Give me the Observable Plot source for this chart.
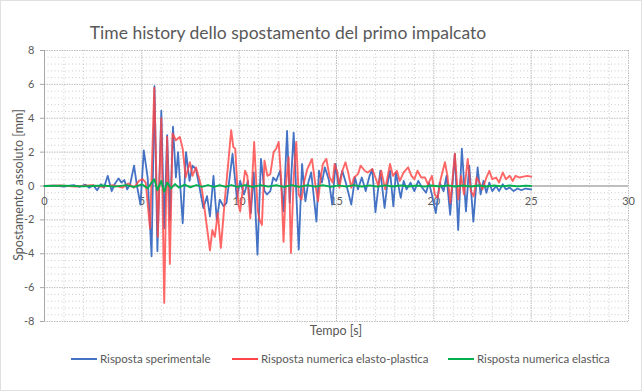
<!DOCTYPE html>
<html>
<head>
<meta charset="utf-8">
<script src="https://cdn.jsdelivr.net/npm/d3@7"></script>
<script src="https://cdn.jsdelivr.net/npm/@observablehq/plot@0.6"></script>
<style>
  html, body { margin: 0; padding: 0; background: #fff; }
  #chart svg { display: block; }
</style>
</head>
<body>
<div id="chart"></div>
<script>
const title = "Time history dello spostamento del primo impalcato";
const xTitle = "Tempo [s]";
const yTitle = "Spostamento assoluto [mm]";
const seriesNames = ["Risposta sperimentale", "Risposta numerica elasto-plastica", "Risposta numerica elastica"];
const seriesColors = ["#4472C4", "#FF4545", "#00B050"];
const xTicks = [0, 5, 10, 15, 20, 25, 30];
const yTicks = [-8, -6, -4, -2, 0, 2, 4, 6, 8];

// [time s, displacement mm]
const sperimentale = [
  [0,0],[0.5,0.02],[1.0,-0.03],[1.5,0.05],[1.8,-0.05],[2.1,0.08],[2.3,-0.1],[2.5,0.05],[2.7,-0.25],[2.9,0.1],
  [3.05,-0.1],[3.25,0.6],[3.45,-0.3],[3.6,0.1],[3.8,0.45],[3.95,0.2],[4.1,0.35],[4.25,-0.2],[4.4,0.1],[4.6,1.2],
  [4.75,0.0],[4.93,-1.1],[5.1,2.1],[5.3,0.5],[5.5,-4.15],[5.65,5.9],[5.8,-3.85],[6.0,4.45],[6.15,-2.5],[6.3,3.0],
  [6.45,-2.0],[6.6,3.5],[6.75,0.5],[6.86,2.0],[7.1,-2.2],[7.27,2.0],[7.45,0.3],[7.6,1.2],[7.78,1.0],[7.95,0.0],
  [8.16,-1.3],[8.35,-0.6],[8.5,-1.8],[8.68,0.6],[8.85,-2.0],[9.0,-0.8],[9.2,-1.2],[9.35,-1.0],[9.66,1.9],[9.88,-0.7],
  [10.05,0.3],[10.25,-0.5],[10.45,0.3],[10.6,-1.6],[10.75,0.8],[10.94,-4.05],[11.12,1.6],[11.3,-0.3],[11.43,-0.5],[11.6,-0.3],
  [11.75,0.5],[11.9,0.3],[12.1,0.9],[12.28,-1.5],[12.46,3.25],[12.6,-1.0],[12.8,3.15],[13.06,-3.75],[13.23,1.3],[13.4,-0.9],
  [13.55,0.2],[13.7,0.8],[13.97,-2.1],[14.1,0.9],[14.25,0.2],[14.4,1.1],[14.6,0.4],[14.78,-1.1],[14.95,1.3],[15.1,0.0],
  [15.3,0.9],[15.5,0.1],[15.76,-1.1],[15.95,0.5],[16.1,-0.2],[16.3,0.5],[16.5,-0.3],[16.7,0.6],[16.84,1.0],[17.0,-1.55],
  [17.25,0.9],[17.47,-1.3],[17.6,0.0],[17.75,0.9],[17.92,-1.2],[18.05,0.8],[18.3,-0.7],[18.45,0.3],[18.6,-0.2],[18.8,0.2],
  [19.0,-0.3],[19.2,0.3],[19.4,-0.1],[19.6,-0.4],[19.75,0.2],[19.9,-0.5],[20.1,-1.6],[20.3,0.2],[20.5,-0.3],[20.65,0.6],
  [20.84,-1.7],[21.08,1.9],[21.25,-2.6],[21.44,2.2],[21.65,-1.5],[21.82,1.2],[22.03,-2.1],[22.25,1.1],[22.4,-0.5],[22.55,0.3],
  [22.7,-0.4],[22.85,0.2],[23.0,-0.3],[23.2,0.0],[23.35,-0.3],[23.54,0.1],[23.7,-0.2],[23.9,-0.1],[24.1,-0.3],[24.3,-0.15],
  [24.5,-0.25],[24.7,-0.15],[25.0,-0.2]
];

const elastoPlastica = [
  [0,0],[0.8,0.03],[1.6,-0.03],[2.4,0.05],[3.0,-0.05],[3.5,0.05],[4.0,-0.1],[4.3,0.15],[4.6,-0.1],[4.85,0.3],
  [5.05,0.4],[5.2,0.2],[5.42,-2.5],[5.64,5.8],[5.82,-3.0],[6.0,4.0],[6.15,-6.9],[6.3,2.9],[6.44,-4.6],[6.58,3.1],
  [6.75,2.7],[6.95,2.9],[7.1,2.2],[7.25,0.5],[7.47,1.4],[7.6,0.6],[7.78,1.1],[7.98,0.3],[8.1,-0.3],[8.25,-1.6],
  [8.5,-3.8],[8.62,-2.6],[8.75,-3.0],[8.9,-1.6],[9.06,-3.65],[9.25,-1.0],[9.45,1.5],[9.59,3.3],[9.7,2.3],[9.8,2.2],
  [9.95,-1.0],[10.05,-1.5],[10.3,0.9],[10.42,0.6],[10.57,-1.9],[10.77,2.6],[10.95,-1.4],[11.05,-2.0],[11.17,-2.3],[11.3,1.5],
  [11.45,0.6],[11.6,0.7],[11.77,2.0],[11.9,2.2],[12.03,2.6],[12.15,0.5],[12.28,-3.3],[12.4,0.0],[12.54,1.7],[12.66,-3.95],
  [12.8,0.5],[12.93,2.6],[13.06,-0.5],[13.2,-0.8],[13.35,0.3],[13.5,1.0],[13.74,1.6],[13.9,0.2],[14.05,-0.9],[14.2,0.6],
  [14.3,1.3],[14.48,1.6],[14.65,0.5],[14.8,0.2],[14.9,1.3],[15.05,0.8],[15.15,-0.1],[15.3,0.9],[15.46,1.4],[15.6,0.8],
  [15.76,-0.1],[15.9,0.5],[16.1,0.7],[16.24,1.2],[16.45,0.9],[16.6,0.8],[16.84,1.0],[17.0,0.5],[17.15,0.0],[17.3,0.9],
  [17.5,-0.2],[17.75,1.3],[17.9,0.6],[18.1,0.9],[18.25,0.3],[18.45,0.8],[18.68,1.1],[18.85,0.6],[19.0,0.4],[19.16,0.9],
  [19.35,0.5],[19.55,0.5],[19.7,0.1],[19.9,0.6],[20.05,-0.5],[20.2,-0.7],[20.35,0.4],[20.57,1.4],[20.7,0.6],[20.85,-1.0],
  [21.08,1.9],[21.25,-0.8],[21.4,0.6],[21.55,-0.5],[21.74,1.6],[21.9,-0.3],[22.05,-0.6],[22.2,0.5],[22.35,0.2],[22.5,-0.2],
  [22.7,0.5],[22.85,0.9],[23.0,0.4],[23.2,0.5],[23.35,0.2],[23.54,0.8],[23.7,0.4],[23.9,0.6],[24.05,0.3],[24.2,0.6],
  [24.4,0.5],[24.6,0.55],[24.8,0.6],[25.0,0.55]
];

const elastica = [
  [0,0],[1,0.02],[2,-0.02],[3,0.03],[3.6,-0.04],[4.2,0.05],[4.6,-0.06],[5.0,0.1],[5.3,-0.15],[5.5,0.2],
  [5.64,0.4],[5.8,-0.25],[6.0,0.3],[6.15,-0.35],[6.3,0.2],[6.5,-0.15],[6.7,0.12],[6.9,-0.1],[7.2,0.08],[7.5,-0.08],
  [7.8,0.06],[8.1,-0.05],[8.4,0.06],[8.7,-0.06],[9.0,0.05],[9.3,-0.05],[9.6,0.06],[9.9,-0.05],[10.3,0.05],[10.7,-0.05],
  [11.1,0.05],[11.5,-0.04],[11.9,0.05],[12.3,-0.05],[12.7,0.05],[13.1,-0.05],[13.5,0.05],[13.9,-0.04],[14.3,0.05],[14.7,-0.05],
  [15.1,0.04],[15.5,-0.04],[15.9,0.05],[16.3,-0.04],[16.7,0.04],[17.1,-0.04],[17.5,0.04],[17.9,-0.03],[18.3,0.04],[18.7,-0.03],
  [19.1,0.03],[19.5,-0.04],[19.9,0.03],[20.3,-0.03],[20.7,0.04],[21.1,-0.03],[21.5,0.03],[21.9,-0.03],[22.3,0.03],[22.7,-0.03],
  [23.1,0.03],[23.5,-0.02],[23.9,0.03],[24.3,-0.02],[24.7,0.02],[25,0.0]
];

const xMinor = d3.range(0, 31, 1).filter(d => d % 5 !== 0);
const xMajor = d3.range(0, 31, 5);
const yMinor = d3.range(-8, 8.001, 0.4).map(d => +d.toFixed(1)).filter(d => Math.abs(d / 2 - Math.round(d / 2)) > 1e-6);
const yMajor = d3.range(-8, 8.001, 2);

const textColor = "#595959";
const font = "Lato, 'Open Sans', sans-serif";

const chart = Plot.plot({
  width: 644,
  height: 392,
  marginLeft: 44,
  marginRight: 16,
  marginTop: 50,
  marginBottom: 71,
  style: { fontFamily: font, background: "#fff", overflow: "visible" },
  x: { domain: [0, 30], axis: null },
  y: { domain: [-8, 8], axis: null },
  marks: [
    Plot.ruleX(xMinor, { stroke: "#cccccc", strokeDasharray: "1,2.5", strokeWidth: 1 }),
    Plot.ruleY(yMinor, { stroke: "#cccccc", strokeDasharray: "1,2.5", strokeWidth: 1 }),
    Plot.ruleX(xMajor, { stroke: "#bdbdbd", strokeDasharray: "1.5,1", strokeWidth: 1 }),
    Plot.ruleY(yMajor, { stroke: "#bdbdbd", strokeDasharray: "1.5,1", strokeWidth: 1 }),
    Plot.ruleX([0], { stroke: "#a6a6a6", strokeWidth: 1 }),
    Plot.axisY({ ticks: yTicks, tickSize: 4, tickPadding: 6, tickFormat: d => String(d), label: null, stroke: "#a6a6a6", fill: textColor, fontSize: 11 }),
    Plot.ruleY([0], { stroke: "#bfbfbf", strokeWidth: 2 }),
    Plot.text(xTicks, { x: d => d, y: 0, dy: 15, text: d => String(d), fill: textColor, fontSize: 11 }),
    Plot.line(sperimentale, { x: d => d[0], y: d => d[1], stroke: seriesColors[0], strokeWidth: 1.8 }),
    Plot.line(elastoPlastica, { x: d => d[0], y: d => d[1], stroke: seriesColors[1], strokeWidth: 1.9, strokeOpacity: 0.82 }),
    Plot.line(elastica, { x: d => d[0], y: d => d[1], stroke: seriesColors[2], strokeWidth: 1.8 })
  ]
});

document.getElementById("chart").appendChild(chart);

const svg = d3.select(chart);
svg.append("rect")
  .attr("x", 0.5).attr("y", 0.5).attr("width", 641).attr("height", 390)
  .attr("fill", "none").attr("stroke", "#c0c0c0").attr("stroke-dasharray", "1,1");

svg.append("text")
  .attr("x", 288).attr("y", 39)
  .attr("text-anchor", "middle")
  .attr("fill", textColor)
  .style("font-family", font).style("font-size", "17.5px")
  .text(title);

svg.append("text")
  .attr("transform", "translate(19,185) rotate(-90)")
  .attr("text-anchor", "middle").attr("dy", "0.35em")
  .attr("fill", textColor)
  .style("font-family", font).style("font-size", "12.5px")
  .text(yTitle);

svg.append("text")
  .attr("x", 336).attr("y", 331).attr("dy", "0.35em")
  .attr("text-anchor", "middle")
  .attr("fill", textColor)
  .style("font-family", font).style("font-size", "12.5px")
  .text(xTitle);

const legendX = [71, 232, 448];
const legend = svg.append("g");
seriesNames.forEach((name, i) => {
  legend.append("line")
    .attr("x1", legendX[i]).attr("x2", legendX[i] + 26)
    .attr("y1", 359).attr("y2", 359)
    .attr("stroke", seriesColors[i]).attr("stroke-width", 2);
  legend.append("text")
    .attr("x", legendX[i] + 29).attr("y", 359).attr("dy", "0.35em")
    .attr("text-anchor", "start")
    .attr("fill", textColor)
    .style("font-family", font).style("font-size", "11.5px")
    .text(name);
});
</script>
</body>
</html>
